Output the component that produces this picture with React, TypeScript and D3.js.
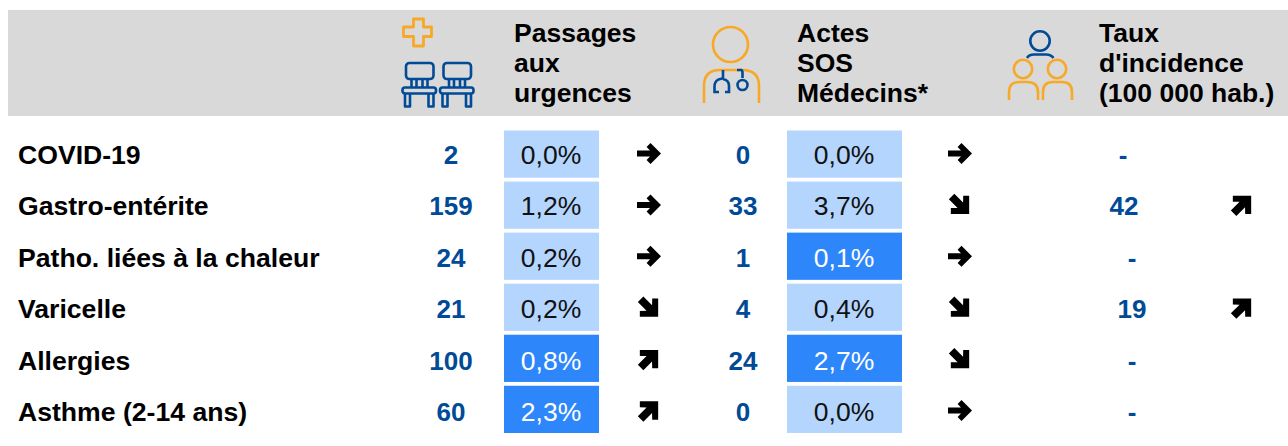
import React from "react";
import * as d3 from "d3";

const categories = ["COVID-19", "Gastro-entérite", "Patho. liées à la chaleur", "Varicelle", "Allergies", "Asthme (2-14 ans)"];
const passages = [2, 159, 24, 21, 100, 60];
const passagesPct = ["0,0%", "1,2%", "0,2%", "0,2%", "0,8%", "2,3%"];
const passagesLevel = [0, 0, 0, 0, 1, 1];
const passagesTrend = ["flat", "flat", "flat", "down", "up", "up"];
const sos = [0, 33, 1, 4, 24, 0];
const sosPct = ["0,0%", "3,7%", "0,1%", "0,4%", "2,7%", "0,0%"];
const sosLevel = [0, 0, 1, 0, 1, 0];
const sosTrend = ["flat", "down", "flat", "down", "down", "flat"];
const incidence = ["-", "42", "-", "19", "-", "-"];
const incidenceTrend = ["", "up", "", "up", "", ""];
const headers = [
  { x: 514, lines: ["Passages", "aux", "urgences"] },
  { x: 797, lines: ["Actes", "SOS", "Médecins*"] },
  { x: 1099, lines: ["Taux", "d'incidence", "(100 000 hab.)"] },
];

const NAVY = "#004A97";
const ORANGE = "#F9A825";
const LIGHT = "#B4D5FE";
const STRONG = "#2E86FB";
const FONT = "'Liberation Sans', Arial, sans-serif";

const rowScale = d3.scaleBand<number>().domain(d3.range(categories.length)).range([130.5, 433]).paddingInner(0.075).paddingOuter(0);
const baseline = d3.scalePoint<number>().domain(d3.range(categories.length)).range([164, 421]);
const levelColor = d3.scaleOrdinal<number, string>().domain([0, 1]).range([LIGHT, STRONG]);
const levelText = d3.scaleOrdinal<number, string>().domain([0, 1]).range(["#111111", "#ffffff"]);
const trendAngle = d3.scaleOrdinal<string, number>().domain(["flat", "down", "up"]).range([0, 45, -45]);

function Arrow({ x, y, trend }: { x: number; y: number; trend: string }) {
  if (!trend) return null;
  const flat = trend === "flat";
  const d = flat
    ? "M-12,-3 H1 L-2.4,-6.6 L1.5,-10.5 L12,0 L1.5,10.5 L-2.4,6.6 L1,3 H-12 Z"
    : "M-11,-3.6 H0.4 L-3.9,-8.1 L0,-12 L12,0 L0,12 L-3.9,8.1 L0.4,3.6 H-11 Z";
  return (
    <g transform={`translate(${x},${y}) rotate(${trendAngle(trend)}) scale(${flat ? 1 : 1.08})`}>
      <path d={d} fill="#000" />
    </g>
  );
}

function Chair({ x }: { x: number }) {
  return (
    <g transform={`translate(${x},63)`} fill="none" stroke={NAVY} strokeWidth={2.6} strokeLinejoin="round">
      <rect x={3.5} y={0} width={27.5} height={16} rx={3.5} />
      <path d="M9,16 V25 M14,16 V25 M20,16 V25 M25,16 V25" />
      <rect x={0} y={24.5} width={33.5} height={6} rx={2.5} />
      <path d="M2.5,30.5 V43.5 H7.5 V30.5 M26,30.5 V43.5 H31 V30.5" />
    </g>
  );
}

function HeaderIcons() {
  return (
    <g>
      <path d="M413.5,19 H423.5 V27 H431.5 V36.5 H423.5 V46 H413.5 V36.5 H403.5 V27 H413.5 Z" fill="none" stroke={ORANGE} strokeWidth={2.8} strokeLinejoin="round" />
      <Chair x={402.5} />
      <Chair x={440} />

      <circle cx={730.5} cy={44.5} r={17.5} fill="none" stroke={ORANGE} strokeWidth={2.6} />
      <path d="M704,103 V86 Q704,70 720,70 H742 Q759,70 759,86 V103" fill="none" stroke={ORANGE} strokeWidth={2.6} />
      <path d="M723,70 V77 Q723,79 720,79 Q715,80 714.5,86 V92 H719 M723,79 Q729,80 729,86 V92 H725" fill="none" stroke={NAVY} strokeWidth={2.6} />
      <path d="M737,70 H741 Q742.5,70 742.5,73 V78" fill="none" stroke={NAVY} strokeWidth={2.6} />
      <circle cx={742.5} cy={85} r={5} fill="none" stroke={NAVY} strokeWidth={2.6} />

      <circle cx={1040} cy={41} r={9.7} fill="none" stroke={NAVY} strokeWidth={2.6} />
      <path d="M1027,58 Q1029,54.5 1034,54.5 H1046 Q1051,54.5 1053.5,58" fill="none" stroke={NAVY} strokeWidth={2.6} />
      <circle cx={1023} cy={69} r={9.2} fill="none" stroke={ORANGE} strokeWidth={2.6} />
      <circle cx={1057} cy={69} r={9.2} fill="none" stroke={ORANGE} strokeWidth={2.6} />
      <path d="M1009,100 V92 Q1009,82 1019,82 H1027 Q1038,82 1038,92 V100" fill="none" stroke={ORANGE} strokeWidth={2.6} />
      <path d="M1043,100 V92 Q1043,82 1053,82 H1062 Q1072,82 1072,92 V100" fill="none" stroke={ORANGE} strokeWidth={2.6} />
    </g>
  );
}

export default function App() {
  const by = (i: number) => baseline(i)!;
  const valueStyle = { fontFamily: FONT, fontWeight: 700, fontSize: 26, fill: NAVY, textAnchor: "middle" as const };
  const pctStyle = { fontFamily: FONT, fontSize: 26.5, textAnchor: "middle" as const };
  return (
    <svg width={1288} height={446} style={{ position: "absolute", left: 0, top: 0 }} fontFamily={FONT}>
      <rect x={8} y={10} width={1280} height={106} fill="#D9D9D9" />
      {headers.map((h) =>
        h.lines.map((l, j) => (
          <text key={l} x={h.x} y={42 + j * 30} fontSize={26.5} fontWeight={700} fill="#000">{l}</text>
        ))
      )}
      <HeaderIcons />
      {categories.map((c, i) => (
        <g key={c}>
          <text x={18} y={by(i)} fontSize={26.6} fontWeight={700} fill="#000">{c}</text>
          <text x={451} y={by(i)} {...valueStyle}>{passages[i]}</text>
          <rect x={504} y={rowScale(i)} width={95} height={rowScale.bandwidth()} fill={levelColor(passagesLevel[i])} />
          <text x={551} y={by(i)} {...pctStyle} fill={levelText(passagesLevel[i])}>{passagesPct[i]}</text>
          <Arrow x={649} y={by(i) - 10.5} trend={passagesTrend[i]} />
          <text x={743} y={by(i)} {...valueStyle}>{sos[i]}</text>
          <rect x={787} y={rowScale(i)} width={115} height={rowScale.bandwidth()} fill={levelColor(sosLevel[i])} />
          <text x={844} y={by(i)} {...pctStyle} fill={levelText(sosLevel[i])}>{sosPct[i]}</text>
          <Arrow x={960} y={by(i) - 10.5} trend={sosTrend[i]} />
          <text x={i === 1 ? 1124 : i === 0 ? 1123 : 1132} y={by(i)} {...valueStyle}>{incidence[i]}</text>
          <Arrow x={1242} y={by(i) - 10.5} trend={incidenceTrend[i]} />
        </g>
      ))}
    </svg>
  );
}
